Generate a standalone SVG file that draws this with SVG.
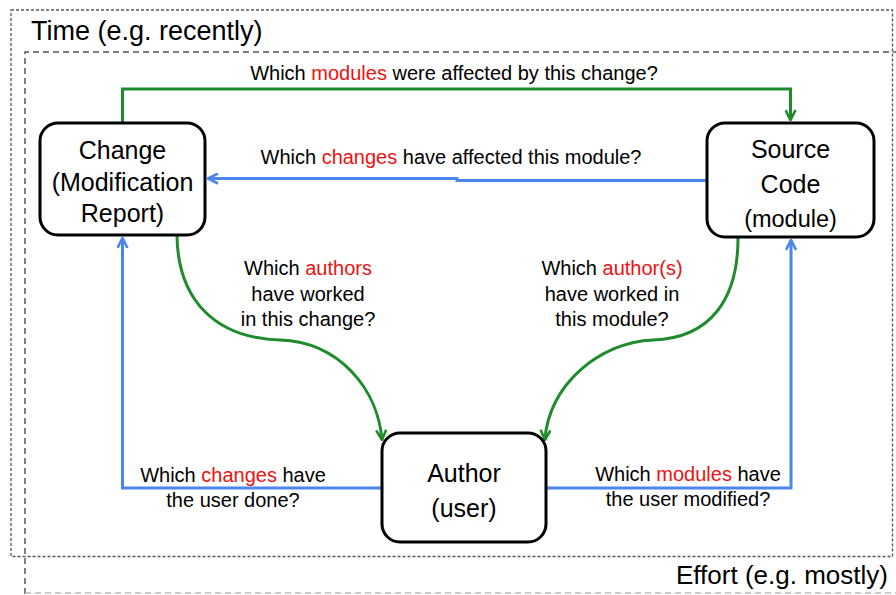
<svg xmlns="http://www.w3.org/2000/svg" width="896" height="595" viewBox="0 0 896 595">
<style>
text{font-family:"Liberation Sans",Arial,sans-serif;fill:#000}
.big{font-size:27px}
.node{font-size:25px;text-anchor:middle}
.lbl{font-size:20px;text-anchor:middle}
.red{fill:#ee1111}
.box{fill:#fff;stroke:#000;stroke-width:3}
.g{fill:none;stroke:#1e8c2c;stroke-width:3}
.b{fill:none;stroke:#4a86ee;stroke-width:3}
</style>
<defs>
<marker id="ag" viewBox="0 0 12 12" refX="11" refY="6" markerWidth="12" markerHeight="12" markerUnits="userSpaceOnUse" orient="auto">
<path d="M1,1 L11,6 L1,11" fill="none" stroke="#1e8c2c" stroke-width="2.6"/>
</marker>
<marker id="ab" viewBox="0 0 12 12" refX="11" refY="6" markerWidth="12" markerHeight="12" markerUnits="userSpaceOnUse" orient="auto">
<path d="M1,1 L11,6 L1,11" fill="none" stroke="#4a86ee" stroke-width="2.6"/>
</marker>
</defs>
<rect width="896" height="595" fill="#fff"/>
<g id="frames">
<rect x="11" y="10" width="881.5" height="546.5" fill="none" stroke="#555" stroke-width="1.3" stroke-dasharray="3 2"/>
<path d="M25,594 V52 H896" fill="none" stroke="#555" stroke-width="1.5" stroke-dasharray="6 4"/>
<path d="M25,593 H896" fill="none" stroke="#bbb" stroke-width="1.5" stroke-dasharray="6 4"/>
<text class="big" x="31" y="40">Time (e.g. recently)</text>
<text class="big" x="676" y="584" style="font-size:26px">Effort (e.g. mostly)</text>
</g>
<g id="connectors">
<path class="g" d="M122.5,123 V89 H790.5 V120" marker-end="url(#ag)"/>
<path class="b" d="M707,180.5 H457 V178.5 H208" marker-end="url(#ab)"/>
<path class="b" d="M382,488 H122.5 V238" marker-end="url(#ab)"/>
<path class="b" d="M546,488 H791 V240" marker-end="url(#ab)"/>
<path class="g" d="M177,236 C178,300 215,338 280,340 C340,342 378,390 382,440" marker-end="url(#ag)"/>
<path class="g" d="M738,238 C738,300 710,338 653,340 C600,342 548,385 545,440" marker-end="url(#ag)"/>
<text class="lbl" x="454" y="80">Which <tspan class="red">modules</tspan> were affected by this change?</text>
<text class="lbl" x="451" y="164">Which <tspan class="red">changes</tspan> have affected this module?</text>
<text class="lbl" x="308" y="275">Which <tspan class="red">authors</tspan></text>
<text class="lbl" x="308" y="301">have worked</text>
<text class="lbl" x="308" y="326">in this change?</text>
<text class="lbl" x="612" y="275">Which <tspan class="red">author(s)</tspan></text>
<text class="lbl" x="612" y="301">have worked in</text>
<text class="lbl" x="612" y="326">this module?</text>
<text class="lbl" x="233" y="482">Which <tspan class="red">changes</tspan> have</text>
<text class="lbl" x="233" y="507">the user done?</text>
<text class="lbl" x="688" y="481">Which <tspan class="red">modules</tspan> have</text>
<text class="lbl" x="688" y="506">the user modified?</text>
</g>
<g id="change">
<rect class="box" x="40" y="123" width="165" height="112" rx="18"/>
<text class="node" x="122.5" y="159">Change</text>
<text class="node" x="122.5" y="191">(Modification</text>
<text class="node" x="122.5" y="222">Report)</text>
</g>
<g id="source">
<rect class="box" x="707" y="123" width="167" height="114" rx="18"/>
<text class="node" x="790.5" y="158">Source</text>
<text class="node" x="790.5" y="193">Code</text>
<text class="node" x="790.5" y="227" style="font-size:23.5px">(module)</text>
</g>
<g id="author">
<rect class="box" x="382" y="433" width="164" height="109" rx="18"/>
<text class="node" x="464" y="482">Author</text>
<text class="node" x="464" y="517">(user)</text>
</g>
</svg>
